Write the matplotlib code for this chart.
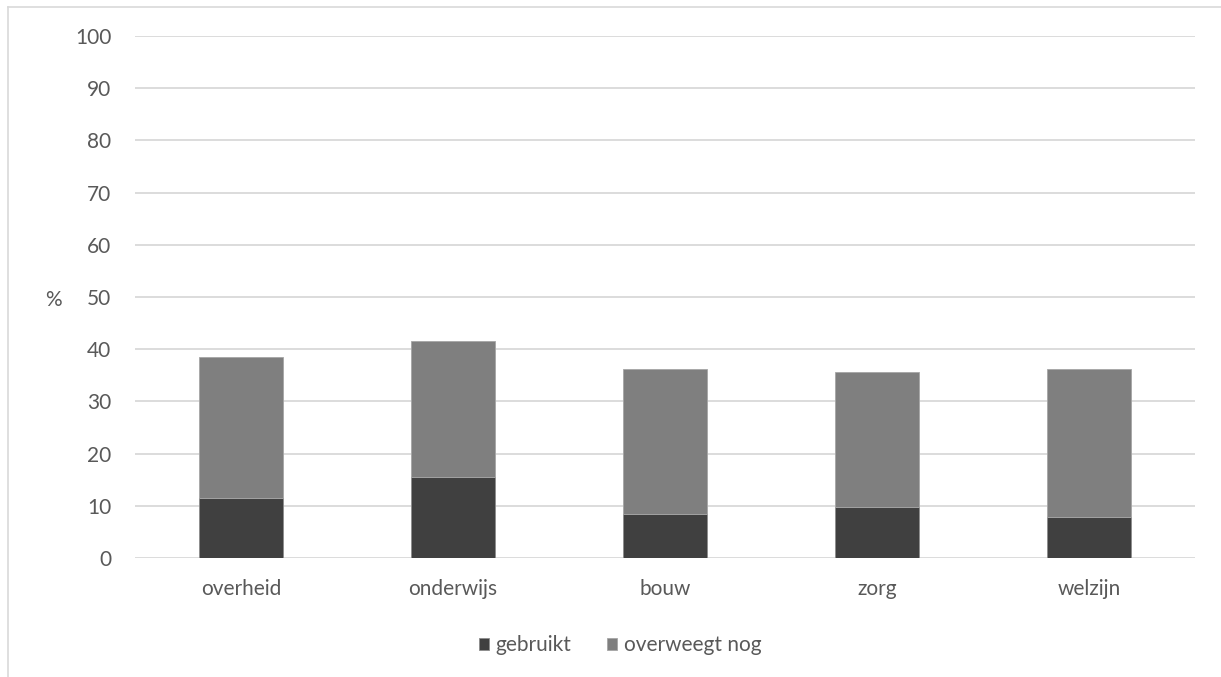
import matplotlib
matplotlib.use("Agg")
import matplotlib.pyplot as plt
import numpy as np
from matplotlib.lines import Line2D

plt.rcParams['font.family'] = ['Lato', 'DejaVu Sans']

categories = ['overheid', 'onderwijs', 'bouw', 'zorg', 'welzijn']
gebruikt = [11.5, 15.6, 8.5, 9.7, 7.9]
overweegt_nog = [27.1, 25.9, 27.8, 25.9, 28.4]
yticks = list(range(0, 101, 10))

txt = '#595959'
fs = 15
fig = plt.figure(figsize=(12.21, 6.77), dpi=100)
ax = fig.add_axes([135 / 1221, 1 - 558 / 677, 1060 / 1221, 522 / 677])

x = np.arange(len(categories))
ax.bar(x, gebruikt, width=0.4, color='#404040', edgecolor='#8c8c8c', linewidth=0.6,
       label='gebruikt', zorder=3)
ax.bar(x, overweegt_nog, width=0.4, bottom=gebruikt, color='#7f7f7f', edgecolor='#a6a6a6',
       linewidth=0.6, label='overweegt nog', zorder=3)

ax.set_xlim(-0.5, len(categories) - 0.5)
ax.set_ylim(0, 100)
ax.set_yticks(yticks)
ax.set_xticks(x)
ax.set_xticklabels(categories)
ax.tick_params(axis='both', length=0, labelsize=fs, colors=txt)
ax.tick_params(axis='y', pad=17)
ax.tick_params(axis='x', pad=15)
ax.grid(axis='y', color='#d9d9d9', linewidth=1.3, zorder=0)
for s in ax.spines.values():
    s.set_visible(False)

fig.text(53 / 1221, 1 - 300 / 677, '%', fontsize=fs, color=txt, ha='center', va='center')

fig.legend(loc='center', bbox_to_anchor=(620 / 1221, 1 - 645 / 677), ncol=2, frameon=False,
           fontsize=fs, labelcolor=txt, handlelength=0.5, handleheight=0.5,
           handletextpad=0.3, columnspacing=1.7)

# light outer frame
fig.add_artist(Line2D([8 / 1221, 8 / 1221], [0, 1 - 7 / 677], color='#d9d9d9', lw=1.2,
                      transform=fig.transFigure))
fig.add_artist(Line2D([8 / 1221, 1], [1 - 7 / 677, 1 - 7 / 677], color='#d9d9d9', lw=1.2,
                      transform=fig.transFigure))

fig.savefig('out.png', dpi=100)
